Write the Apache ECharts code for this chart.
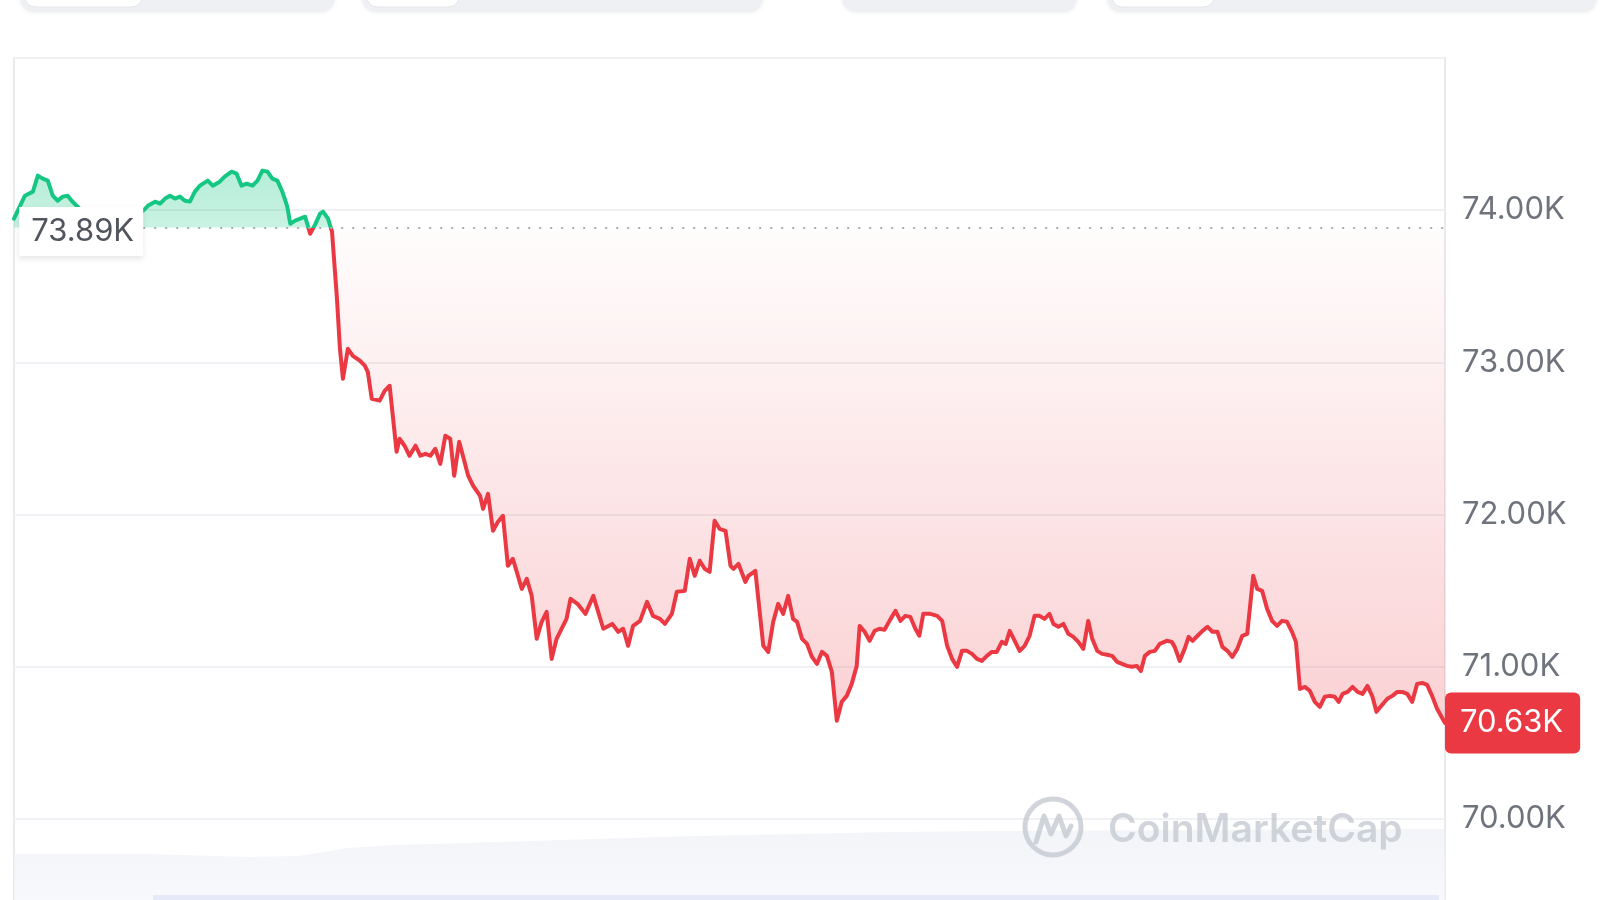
<!DOCTYPE html>
<html>
<head>
<meta charset="utf-8">
<script src="https://cdn.jsdelivr.net/npm/echarts@6/dist/echarts.min.js"></script>
<style>
html,body{margin:0;padding:0;background:#fff;}
#chart{width:1600px;height:900px;}
</style>
</head>
<body>
<div id="chart"></div>
<script>
// ---- data (minutes since start of the 24h window, price in USD) ----
const baseline = 73886;
const lastPrice = 70630;
const times = [0,11,19,24,29,34,39,44,49,54,58,66,76,87,97,107,117,125,130,135,142,147,152,157,162,167,172,177,182,187,195,200,207,212,219,224,229,234,240,245,250,255,260,265,270,275,278,283,288,293,298,303,308,311,316,320,325,328,331,336,341,348,353,356,360,368,373,378,385,388,393,398,404,409,414,419,424,429,434,439,443,448,452,457,462,469,472,477,482,487,492,497,502,511,516,521,526,531,536,541,546,551,556,560,567,575,583,593,602,608,613,618,623,630,637,643,650,655,662,667,675,680,685,690,695,700,705,710,716,721,724,729,736,739,746,754,759,764,769,774,779,784,788,793,798,803,808,813,818,823,828,833,838,843,848,851,856,861,866,871,876,881,887,892,897,902,907,911,915,922,929,934,939,944,949,954,959,964,969,974,979,984,989,994,998,1002,1007,1012,1017,1022,1027,1032,1037,1042,1046,1051,1056,1061,1066,1071,1076,1081,1085,1090,1095,1100,1105,1110,1115,1120,1125,1130,1134,1138,1143,1148,1153,1160,1165,1168,1173,1178,1182,1186,1191,1196,1201,1206,1211,1216,1221,1226,1231,1236,1241,1247,1251,1256,1261,1266,1271,1276,1281,1286,1290,1294,1299,1304,1309,1314,1319,1324,1329,1333,1337,1342,1347,1352,1357,1362,1367,1371,1376,1382,1387,1392,1397,1402,1407,1412,1417,1422,1427,1432,1440];
const prices = [73944,74095,74122,74227,74207,74194,74095,74062,74089,74095,74062,74010,73957,73911,73931,73905,73957,73984,73997,74030,74056,74043,74076,74095,74076,74089,74062,74056,74122,74161,74194,74161,74187,74220,74253,74240,74161,74174,74161,74194,74260,74253,74207,74194,74122,74023,73911,73931,73944,73957,73845,73905,73977,73990,73944,73859,73418,73089,72892,73089,73043,73011,72978,72938,72761,72748,72813,72846,72412,72498,72452,72386,72452,72386,72399,72386,72432,72333,72517,72498,72255,72478,72379,72255,72189,72123,72037,72136,71893,71952,71991,71663,71709,71511,71577,71465,71183,71295,71360,71051,71183,71249,71314,71446,71413,71347,71465,71249,71281,71229,71249,71137,71268,71301,71426,71334,71314,71281,71347,71492,71498,71709,71597,71696,71643,71623,71959,71906,71893,71663,71643,71676,71557,71597,71630,71137,71097,71295,71413,71347,71465,71314,71295,71183,71150,71064,71018,71097,71071,70966,70644,70769,70808,70887,71005,71268,71229,71170,71235,71249,71242,71301,71367,71301,71334,71327,71249,71203,71347,71347,71334,71301,71137,71051,70999,71104,71104,71084,71051,71038,71071,71097,71097,71163,71150,71235,71170,71104,71137,71203,71334,71334,71314,71347,71281,71262,71281,71216,71196,71163,71117,71301,71183,71104,71084,71078,71071,71032,71018,71005,70999,71005,70972,71071,71097,71104,71150,71170,71163,71130,71038,71117,71196,71170,71203,71235,71262,71229,71229,71130,71104,71064,71117,71203,71216,71597,71511,71498,71380,71301,71268,71301,71295,71229,71163,70854,70867,70841,70769,70736,70802,70808,70802,70769,70821,70834,70867,70834,70821,70874,70802,70703,70743,70789,70808,70834,70834,70821,70769,70887,70893,70880,70808,70723,70630];
const volTimes = [0,136,236,286,336,386,486,586,686,786,886,986,1186,1440];
const volumes = [46,46,43,44,52,55,58,61,64,66,68,69,70,71];
const yTicks = [70000,71000,72000,73000,74000];

const GREEN = '#16c784', RED = '#ea3943';
const FONT = 'Inter, "Noto Sans", sans-serif';
const fmtK = v => (v/1000).toFixed(2) + 'K';

const priceData = times.map((t,i)=>[t, prices[i]]);
const upData = times.map((t,i)=>[t, Math.max(prices[i], baseline)]);
const downData = times.map((t,i)=>[t, Math.min(prices[i], baseline)]);
const volData = volTimes.map((t,i)=>[t, volumes[i]]);

const chart = echarts.init(document.getElementById('chart'), null, {renderer:'canvas'});

function tab(x, w, innerW){
  const els = [{
    type:'rect', shape:{x:x, y:-20, width:w, height:32, r:14},
    style:{fill:'#eef0f3', shadowBlur:4, shadowColor:'rgba(0,0,0,0.06)', shadowOffsetY:1}
  }];
  if (innerW) els.push({
    type:'rect', shape:{x:x+5, y:-20, width:innerW, height:27, r:10},
    style:{fill:'#ffffff', stroke:'#e3e6ea', lineWidth:1}
  });
  return els;
}

const WM = 'rgba(190,195,204,0.7)';

const option = {
  backgroundColor:'#ffffff',
  animation:false,
  textStyle:{fontFamily:FONT},
  grid:[
    {left:14, right:155, top:58, height:913, outerBoundsMode:'none', show:true, borderColor:'#e8eaee', borderWidth:2, backgroundColor:'transparent'},
    {left:14, right:155, top:826, bottom:0, outerBoundsMode:'none'}
  ],
  xAxis:[
    {type:'value', gridIndex:0, min:0, max:1440, show:false},
    {type:'value', gridIndex:1, min:0, max:1440, show:false}
  ],
  yAxis:[
    {type:'value', gridIndex:0, position:'right', min:69000, max:75000, interval:1000,
     axisLine:{show:false}, axisTick:{show:false},
     splitLine:{lineStyle:{color:'#eff1f4', width:2}},
     axisLabel:{margin:17, fontSize:31, color:'#6e737c', fontFamily:FONT,
       formatter: v => yTicks.indexOf(v) >= 0 ? fmtK(v) : ''}},
    {type:'value', gridIndex:1, min:0, max:74, show:false}
  ],
  visualMap:{
    type:'piecewise', show:false, seriesIndex:0, dimension:1,
    pieces:[{gte:60000, lt:baseline, color:RED},{gte:baseline, lte:90000, color:GREEN}]
  },
  graphic:[
    ...tab(20, 315, 117),
    ...tab(362, 401, 92),
    ...tab(842, 235, 0),
    ...tab(1107, 490, 102),
    {type:'rect', shape:{x:153, y:895, width:1286, height:5}, style:{fill:'#e6e9f8'}, z:10},
    {type:'circle', shape:{cx:1053, cy:827, r:28}, style:{fill:'none', stroke:WM, lineWidth:5}, z:10},
    {type:'polyline', shape:{points:[[1036,842],[1044,816],[1051,834],[1059,816],[1066,836],[1071,826]]},
      style:{stroke:WM, lineWidth:5, fill:'none', lineJoin:'round', lineCap:'round'}, z:10},
    {type:'text', x:1108, y:830, z:10,
      style:{text:'CoinMarketCap', fontSize:39, fontWeight:600, fontFamily:FONT, fill:WM, verticalAlign:'middle', align:'left'}}
  ],
  series:[
    {type:'line', name:'price', data:priceData, xAxisIndex:0, yAxisIndex:0, symbol:'none', z:4,
     lineStyle:{width:4, join:'round', cap:'round'}},
    {type:'line', name:'up', data:upData, xAxisIndex:0, yAxisIndex:0, symbol:'none', z:2,
     lineStyle:{width:0, opacity:0}, itemStyle:{color:GREEN},
     areaStyle:{origin:baseline, color:new echarts.graphic.LinearGradient(0,0,0,1,[
       {offset:0, color:'rgba(22,199,132,0.45)'},{offset:1, color:'rgba(22,199,132,0.33)'}])}},
    {type:'line', name:'down', data:downData, xAxisIndex:0, yAxisIndex:0, symbol:'none', z:2,
     lineStyle:{width:0, opacity:0}, itemStyle:{color:RED},
     areaStyle:{origin:baseline, color:new echarts.graphic.LinearGradient(0,0,0,1,[
       {offset:0, color:'rgba(234,57,67,0.02)'},{offset:1, color:'rgba(234,57,67,0.33)'}])}},
    {type:'line', name:'volume', data:volData, xAxisIndex:1, yAxisIndex:1, symbol:'none', z:1,
     lineStyle:{width:0, opacity:0}, itemStyle:{color:'#edf0f6'},
     areaStyle:{color:new echarts.graphic.LinearGradient(0,0,0,1,[
       {offset:0, color:'#edf0f6'},{offset:1, color:'#f4f6fa'}])}},
    {type:'line', name:'marks', data:priceData, xAxisIndex:0, yAxisIndex:0, symbol:'none', z:6, clip:false,
     lineStyle:{width:0, opacity:0}, itemStyle:{color:'#a9adb5'},
     markLine:{
       silent:true, symbol:['none','none'], animation:false,
       data:[
         [{coord:[130, baseline], lineStyle:{color:'#a9adb5', width:2, type:[2,9]},
           label:{show:true, position:'start', distance:0, offset:[0,4], formatter:fmtK(baseline),
             fontSize:31, fontFamily:FONT, color:'#50555e', backgroundColor:'#ffffff',
             padding:[9,9,9,12], shadowBlur:6, shadowColor:'rgba(0,0,0,0.10)', shadowOffsetY:3}},
          {coord:[1440, baseline]}],
         [{coord:[0, lastPrice], lineStyle:{width:0, color:'rgba(0,0,0,0)', type:'solid'},
           label:{show:true, position:'end', distance:0, formatter:fmtK(lastPrice),
             fontSize:31, fontFamily:FONT, color:'#ffffff', backgroundColor:RED,
             padding:[15,17,15,15], borderRadius:6}},
          {coord:[1440, lastPrice]}]
       ]
     }}
  ]
};
chart.setOption(option);
</script>
</body>
</html>
